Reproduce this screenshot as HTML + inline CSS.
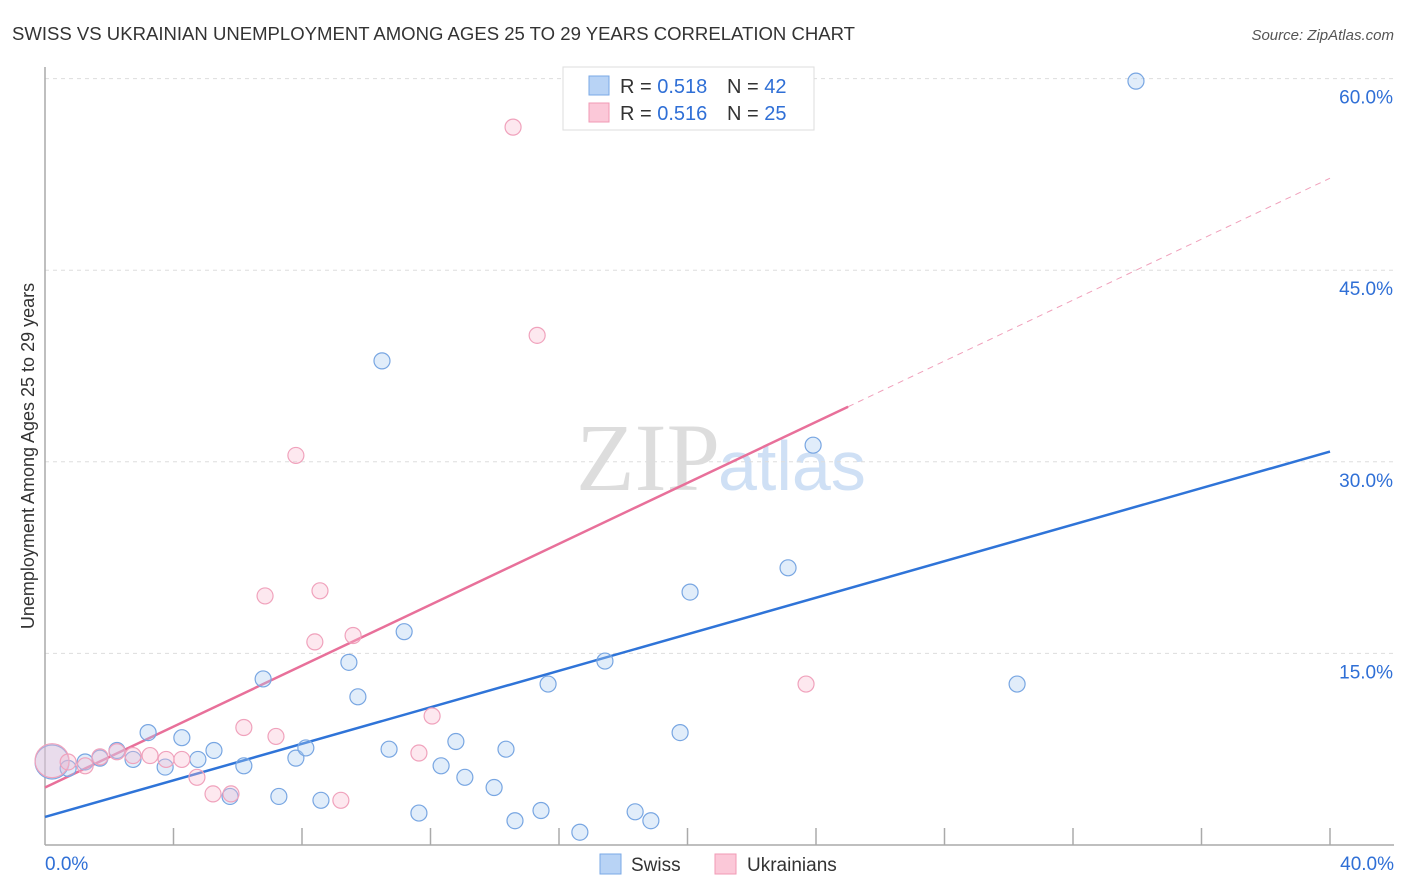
<!DOCTYPE html>
<html><head><meta charset="utf-8">
<style>
body{margin:0;background:#fff;font-family:"Liberation Sans",sans-serif;}
svg{display:block}
</style></head>
<body>
<svg id="chart" width="1406" height="892" xmlns="http://www.w3.org/2000/svg">
<text x="12" y="40" font-size="18" fill="#333" textLength="843" lengthAdjust="spacingAndGlyphs">SWISS VS UKRAINIAN UNEMPLOYMENT AMONG AGES 25 TO 29 YEARS CORRELATION CHART</text>
<text x="1394" y="40" font-size="15" fill="#555" font-style="italic" text-anchor="end">Source: ZipAtlas.com</text>
<text x="720" y="490" font-size="96" fill="#ddd" font-family="Liberation Serif,serif" text-anchor="end">ZIP</text>
<text x="718" y="490" font-size="70" fill="#cfe0f5">atlas</text>
<text transform="translate(34,456) rotate(-90)" font-size="18" fill="#333" text-anchor="middle">Unemployment Among Ages 25 to 29 years</text>
<g id="grid"></g><g id="axes"></g><g id="trend"></g><g id="pts"></g>
<g>
<rect x="563" y="67" width="251" height="63" fill="#fff" stroke="#ddd"/>
<rect x="589" y="76" width="20" height="19" fill="#b8d3f5" stroke="#7aa8e6"/>
<rect x="589" y="103" width="20" height="19" fill="#fbc8d8" stroke="#f09ab5"/>
<text x="620" y="93" font-size="20" fill="#333">R = <tspan fill="#2f6fd6">0.518</tspan></text>
<text x="727" y="93" font-size="20" fill="#333">N = <tspan fill="#2f6fd6">42</tspan></text>
<text x="620" y="120" font-size="20" fill="#333">R = <tspan fill="#2f6fd6">0.516</tspan></text>
<text x="727" y="120" font-size="20" fill="#333">N = <tspan fill="#2f6fd6">25</tspan></text>
</g>
<g>
<rect x="600" y="854" width="21" height="20" fill="#b8d3f5" stroke="#7aa8e6"/>
<text x="631" y="871" font-size="19" fill="#333">Swiss</text>
<rect x="715" y="854" width="21" height="20" fill="#fbc8d8" stroke="#f09ab5"/>
<text x="747" y="871" font-size="19" fill="#333">Ukrainians</text>
</g>
</svg>
<script>
const swissX=[0.22,0.72,1.25,1.71,2.24,2.74,3.21,3.74,4.26,4.76,5.26,5.76,6.19,6.79,7.28,7.81,8.12,8.59,9.46,9.74,10.49,10.71,11.18,11.64,12.33,12.79,13.07,13.98,14.35,14.63,15.44,15.66,16.65,17.43,18.37,18.86,19.77,20.08,23.13,23.91,30.26,33.96];
const swissY=[6.5,6.0,6.5,6.8,7.4,6.7,8.8,6.1,8.4,6.7,7.4,3.8,6.2,13.0,3.8,6.8,7.6,3.5,14.3,11.6,37.9,7.5,16.7,2.5,6.2,8.1,5.3,4.5,7.5,1.9,2.7,12.6,1.0,14.4,2.6,1.9,8.8,19.8,21.7,31.3,12.6,59.8];
const ukrX=[0.22,0.72,1.25,1.71,2.24,2.74,3.27,3.77,4.26,4.73,5.23,5.79,6.19,6.85,7.19,7.81,8.4,8.56,9.21,9.59,11.64,12.05,14.57,15.32,23.69];
const ukrY=[6.6,6.5,6.2,6.9,7.3,7.0,7.0,6.7,6.7,5.3,4.0,4.0,9.2,19.5,8.5,30.5,15.9,19.9,3.5,16.4,7.2,10.1,56.2,39.9,12.6];
const swissTrend=[2.2,30.8];
const ukrTrend=[4.5,52.2];
const ukrSolidEnd=25;
const yTicks=[15,30,45,60];
const xLabels=["0.0%","40.0%"];
const NS="http://www.w3.org/2000/svg";
const X=v=>45+v*1285/40, Y=v=>845-v*191.6/15;
function mk(tag,attrs,parent){const e=document.createElementNS(NS,tag);for(const k in attrs)e.setAttribute(k,attrs[k]);document.getElementById(parent).appendChild(e);return e;}
yTicks.forEach(t=>{
 const l=mk('line',{x1:45,x2:1394,y1:Y(t),y2:Y(t),stroke:'#ddd','stroke-dasharray':'4,4'},'grid');
 
 
 const tx=mk('text',{x:1393,y:Y(t)+25,'font-size':19,fill:'#2f6fd6','text-anchor':'end'},'grid');
 tx.textContent=t.toFixed(1)+'%';
 
 
});
let a=mk('line',{x1:45,x2:45,y1:67,y2:845,stroke:'#aaa','stroke-width':1.5},'axes');


a=mk('line',{x1:45,x2:1394,y1:845,y2:845,stroke:'#aaa','stroke-width':1.5},'axes');


for(let i=1;i<=10;i++){const x=X(i*4);const t=mk('line',{x1:x,x2:x,y1:828,y2:845,stroke:'#aaa','stroke-width':1.5},'axes');
 
 }
let xl=mk('text',{x:45,y:870,'font-size':19,fill:'#2f6fd6'},'axes');xl.textContent=xLabels[0];


xl=mk('text',{x:1394,y:870,'font-size':19,fill:'#2f6fd6','text-anchor':'end'},'axes');xl.textContent=xLabels[1];


const uy=x=>ukrTrend[0]+(ukrTrend[1]-ukrTrend[0])*x/40;
let tl=mk('line',{x1:X(0),y1:Y(swissTrend[0]),x2:X(40),y2:Y(swissTrend[1]),stroke:'#2f74d8','stroke-width':2.5},'trend');


tl=mk('line',{x1:X(0),y1:Y(uy(0)),x2:X(ukrSolidEnd),y2:Y(uy(ukrSolidEnd)),stroke:'#e8709a','stroke-width':2.5},'trend');


tl=mk('line',{x1:X(ukrSolidEnd),y1:Y(uy(ukrSolidEnd)),x2:X(40),y2:Y(uy(40)),stroke:'#f0a0bb','stroke-width':1,'stroke-dasharray':'6,5'},'trend');


swissX.forEach((x,i)=>{const c=mk('circle',{cx:X(x),cy:Y(swissY[i]),r:i==0?17:8,fill:'rgba(170,202,242,0.35)',stroke:'#78a6e2','stroke-width':1.2},'pts');
 
 });
ukrX.forEach((x,i)=>{const c=mk('circle',{cx:X(x),cy:Y(ukrY[i]),r:i==0?17:8,fill:'rgba(248,190,208,0.35)',stroke:'#f0a2bc','stroke-width':1.2},'pts');
 
 });
</script>
</body></html>
